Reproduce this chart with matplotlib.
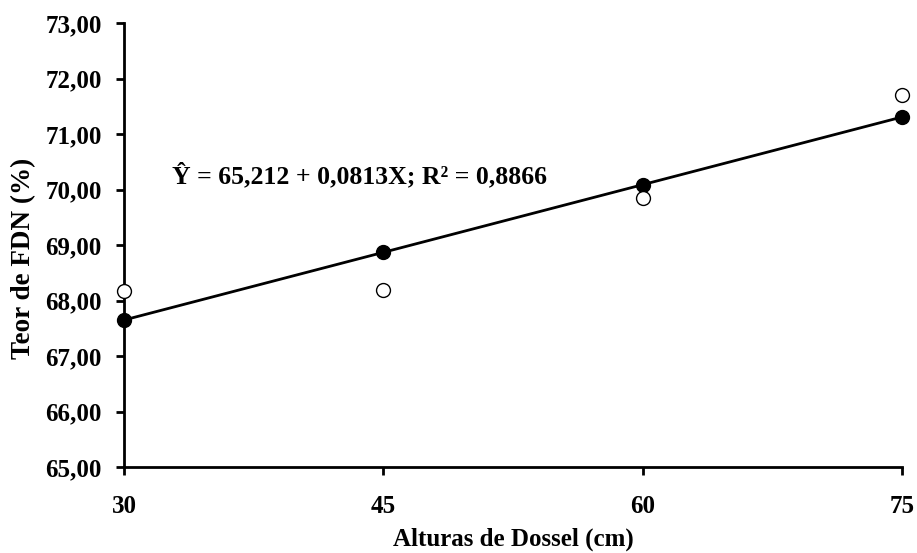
import matplotlib
matplotlib.use("Agg")
import matplotlib.pyplot as plt

heights = [30, 45, 60, 75]
observed = [68.17, 68.20, 69.85, 71.70]
fitted = [67.65, 68.87, 70.09, 71.31]
y_ticks = [65, 66, 67, 68, 69, 70, 71, 72, 73]
y_tick_labels = ["65,00", "66,00", "67,00", "68,00", "69,00", "70,00", "71,00", "72,00", "73,00"]

plt.rcParams['font.family'] = ['Liberation Serif', 'DejaVu Serif']
plt.rcParams['font.weight'] = 'bold'

fig = plt.figure(figsize=(9.17, 5.53), dpi=100)
ax = fig.add_axes([0.1352, 0.1555, 0.8484, 0.8024])

ax.plot(heights, fitted, color='black', lw=2, marker='o', markersize=10,
        markerfacecolor='black', markeredgecolor='black', zorder=3, clip_on=False)
ax.plot(heights, observed, linestyle='none', marker='o', markersize=10,
        markerfacecolor='white', markeredgecolor='black', markeredgewidth=1.0,
        zorder=4, clip_on=False)

ax.set_xlim(30, 75)
ax.set_ylim(65, 73)
ax.set_xticks(heights)
ax.set_xticklabels([str(h) for h in heights], fontsize=18, fontweight='bold')
ax.set_yticks(y_ticks)
ax.set_yticklabels(y_tick_labels, fontsize=18, fontweight='bold')
ax.tick_params(axis='both', direction='out', length=6, width=2, color='black')
ax.tick_params(axis='x', pad=14)
ax.tick_params(axis='y', pad=10)

for s in ['top', 'right']:
    ax.spines[s].set_visible(False)
for s in ['left', 'bottom']:
    ax.spines[s].set_linewidth(2)

ax.set_xlabel("Alturas de Dossel (cm)", fontsize=18, fontweight='bold', labelpad=7)
ax.set_ylabel("Teor de FDN (%)", fontsize=19.5, fontweight='bold')
ax.yaxis.set_label_coords(-0.113, 0.47)

ax.text(0.062, 0.657, "\u0176 = 65,212 + 0,0813X; R\u00b2 = 0,8866",
        transform=ax.transAxes, fontsize=18.5, fontweight='bold', ha='left', va='center')

fig.savefig("out.png", dpi=100)
